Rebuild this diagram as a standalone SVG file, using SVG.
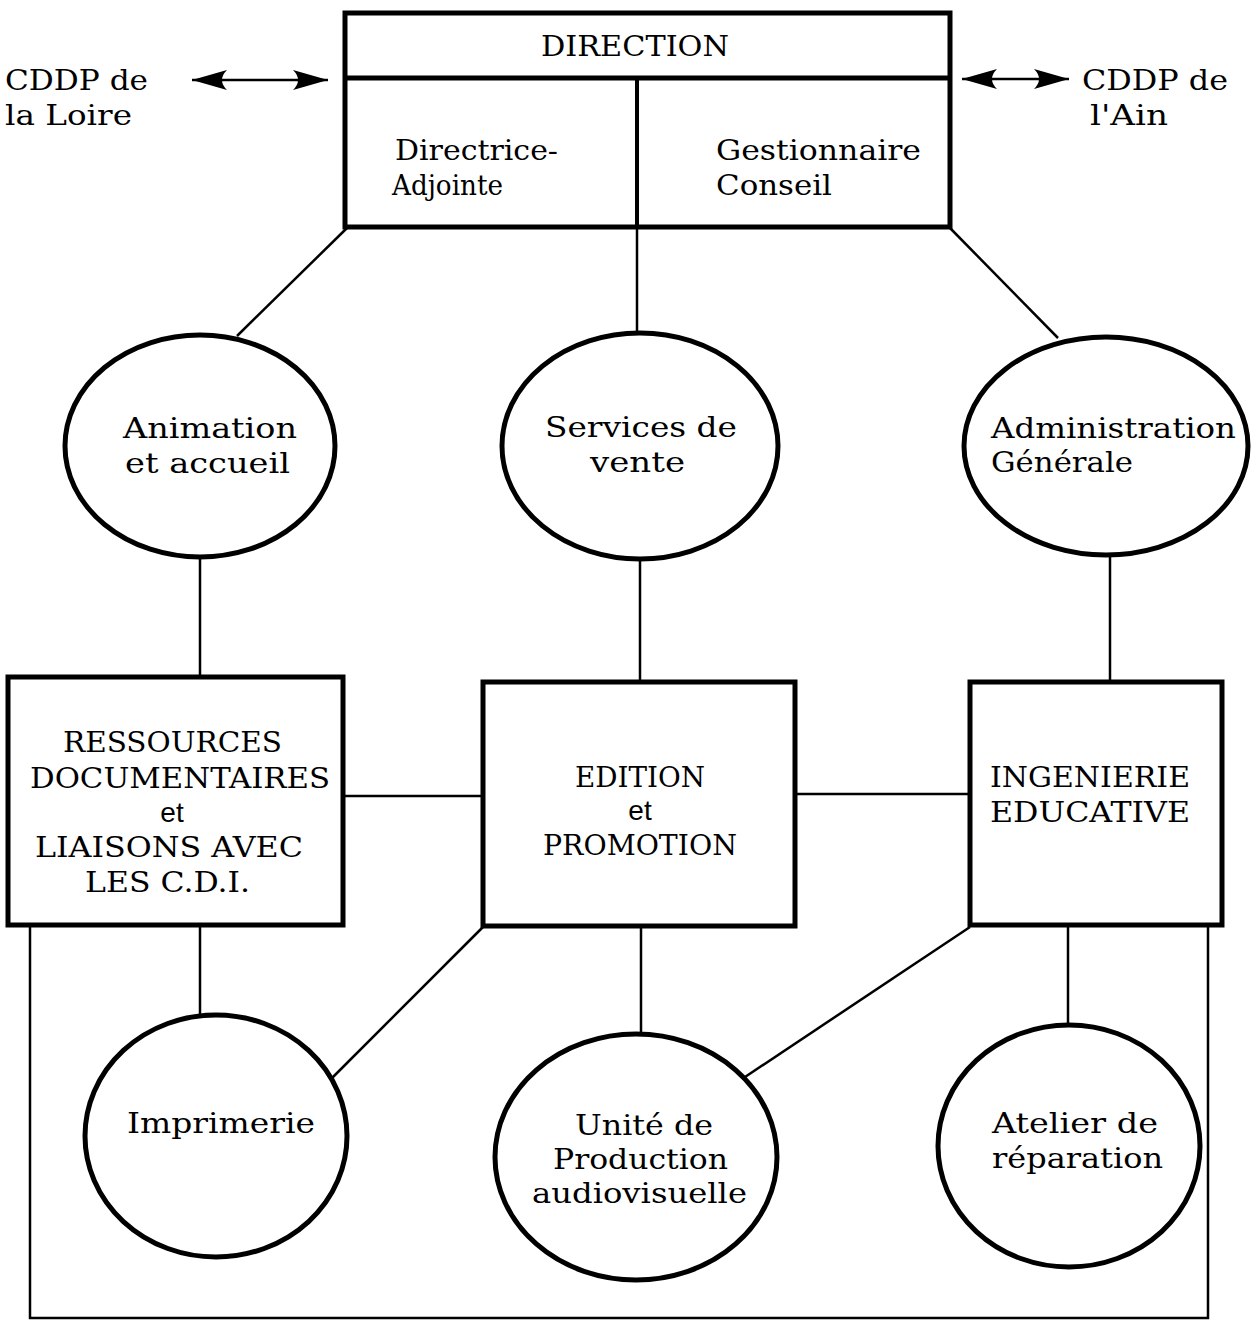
<svg xmlns="http://www.w3.org/2000/svg" width="1258" height="1335" viewBox="0 0 1258 1335">
<style>
.bx{fill:#fff;stroke:#000;stroke-width:5}
.el{fill:#fff;stroke:#000;stroke-width:5}
.cn{fill:none;stroke:#000;stroke-width:2.5}
.t{font-family:"DejaVu Serif","Liberation Serif",serif;font-size:28px;fill:#000}
.c{font-family:"DejaVu Serif","Liberation Serif",serif;font-size:28px;fill:#000}
.s{font-family:"Liberation Sans",Arial,sans-serif;font-size:28px;fill:#000}
</style>
<defs>
<marker id="ah" markerUnits="userSpaceOnUse" viewBox="-36 -12 38 24" refX="0" refY="0" markerWidth="38" markerHeight="24" orient="auto-start-reverse">
<path d="M0,0 L-35,-10 Q-25,0 -35,10 Z" fill="#000"/>
</marker>
</defs>
<rect width="1258" height="1335" fill="#fff"/>
<g id="connectors">
<line class="cn" x1="347" y1="228" x2="237" y2="336"/>
<line class="cn" x1="637" y1="228" x2="637" y2="334"/>
<line class="cn" x1="950" y1="228" x2="1058" y2="338"/>
<line class="cn" x1="200" y1="556" x2="200" y2="677"/>
<line class="cn" x1="640" y1="559" x2="640" y2="682"/>
<line class="cn" x1="1110" y1="554" x2="1110" y2="682"/>
<line class="cn" x1="343" y1="796" x2="483" y2="796"/>
<line class="cn" x1="795" y1="794" x2="970" y2="794"/>
<line class="cn" x1="200" y1="926" x2="200" y2="1016"/>
<line class="cn" x1="483" y1="927" x2="330" y2="1080"/>
<line class="cn" x1="641" y1="926" x2="641" y2="1035"/>
<line class="cn" x1="970" y1="927" x2="745" y2="1077"/>
<line class="cn" x1="1068" y1="925" x2="1068" y2="1025"/>
<path class="cn" d="M30,926 V1318 H1208 V926"/>
<line class="cn" x1="192" y1="80" x2="328" y2="80" marker-start="url(#ah)" marker-end="url(#ah)"/>
<line class="cn" x1="962" y1="79" x2="1069" y2="79" marker-start="url(#ah)" marker-end="url(#ah)"/>
</g>
<g id="cddp-loire">
<text class="t" x="5" y="90" textLength="143" lengthAdjust="spacingAndGlyphs">CDDP de</text>
<text class="t" x="5" y="125" textLength="127" lengthAdjust="spacingAndGlyphs">la Loire</text>
</g>
<g id="cddp-ain">
<text class="t" x="1082" y="90" textLength="146" lengthAdjust="spacingAndGlyphs">CDDP de</text>
<text class="t" x="1090" y="125" textLength="78" lengthAdjust="spacingAndGlyphs">l'Ain</text>
</g>
<g id="direction">
<rect class="bx" x="345" y="13" width="605" height="214"/>
<line x1="345" y1="78" x2="950" y2="78" stroke="#000" stroke-width="5"/>
<line x1="637" y1="78" x2="637" y2="227" stroke="#000" stroke-width="4"/>
<text class="c" x="541" y="56" textLength="188" lengthAdjust="spacingAndGlyphs">DIRECTION</text>
<text class="t" x="395" y="160" textLength="163" lengthAdjust="spacingAndGlyphs">Directrice-</text>
<text class="t" x="392" y="195" textLength="111" lengthAdjust="spacingAndGlyphs">Adjointe</text>
<text class="t" x="716" y="160" textLength="205" lengthAdjust="spacingAndGlyphs">Gestionnaire</text>
<text class="t" x="716" y="195" textLength="116" lengthAdjust="spacingAndGlyphs">Conseil</text>
</g>
<g id="animation">
<ellipse class="el" cx="200" cy="446" rx="135" ry="111"/>
<text class="t" x="123" y="438" textLength="174" lengthAdjust="spacingAndGlyphs">Animation</text>
<text class="t" x="125" y="473" textLength="165" lengthAdjust="spacingAndGlyphs">et accueil</text>
</g>
<g id="services">
<ellipse class="el" cx="640" cy="446" rx="138" ry="113"/>
<text class="t" x="545" y="437" textLength="192" lengthAdjust="spacingAndGlyphs">Services de</text>
<text class="t" x="590" y="472" textLength="95" lengthAdjust="spacingAndGlyphs">vente</text>
</g>
<g id="administration">
<ellipse class="el" cx="1106" cy="446" rx="142" ry="109"/>
<text class="t" x="991" y="438" textLength="245" lengthAdjust="spacingAndGlyphs">Administration</text>
<text class="t" x="991" y="472" textLength="142" lengthAdjust="spacingAndGlyphs">Générale</text>
</g>
<g id="ressources">
<rect class="bx" x="8" y="677" width="335" height="248"/>
<text class="c" x="63" y="752" textLength="219" lengthAdjust="spacingAndGlyphs">RESSOURCES</text>
<text class="c" x="30" y="788" textLength="300" lengthAdjust="spacingAndGlyphs">DOCUMENTAIRES</text>
<text class="s" x="172" y="822" text-anchor="middle">et</text>
<text class="c" x="35" y="857" textLength="268" lengthAdjust="spacingAndGlyphs">LIAISONS AVEC</text>
<text class="c" x="85" y="892" textLength="165" lengthAdjust="spacingAndGlyphs">LES C.D.I.</text>
</g>
<g id="edition">
<rect class="bx" x="483" y="682" width="312" height="244"/>
<text class="c" x="575" y="787" textLength="130" lengthAdjust="spacingAndGlyphs">EDITION</text>
<text class="s" x="640" y="820" text-anchor="middle">et</text>
<text class="c" x="543" y="855" textLength="194" lengthAdjust="spacingAndGlyphs">PROMOTION</text>
</g>
<g id="ingenierie">
<rect class="bx" x="970" y="682" width="252" height="243"/>
<text class="c" x="990" y="787" textLength="200" lengthAdjust="spacingAndGlyphs">INGENIERIE</text>
<text class="c" x="990" y="822" textLength="200" lengthAdjust="spacingAndGlyphs">EDUCATIVE</text>
</g>
<g id="imprimerie">
<ellipse class="el" cx="216" cy="1136" rx="131" ry="121"/>
<text class="t" x="127" y="1133" textLength="188" lengthAdjust="spacingAndGlyphs">Imprimerie</text>
</g>
<g id="unite">
<ellipse class="el" cx="636" cy="1157" rx="141" ry="123"/>
<text class="t" x="575" y="1135" textLength="138" lengthAdjust="spacingAndGlyphs">Unité de</text>
<text class="t" x="553" y="1169" textLength="175" lengthAdjust="spacingAndGlyphs">Production</text>
<text class="t" x="532" y="1203" textLength="215" lengthAdjust="spacingAndGlyphs">audiovisuelle</text>
</g>
<g id="atelier">
<ellipse class="el" cx="1069" cy="1146" rx="131" ry="121"/>
<text class="t" x="992" y="1133" textLength="166" lengthAdjust="spacingAndGlyphs">Atelier de</text>
<text class="t" x="992" y="1168" textLength="171" lengthAdjust="spacingAndGlyphs">réparation</text>
</g>
</svg>
